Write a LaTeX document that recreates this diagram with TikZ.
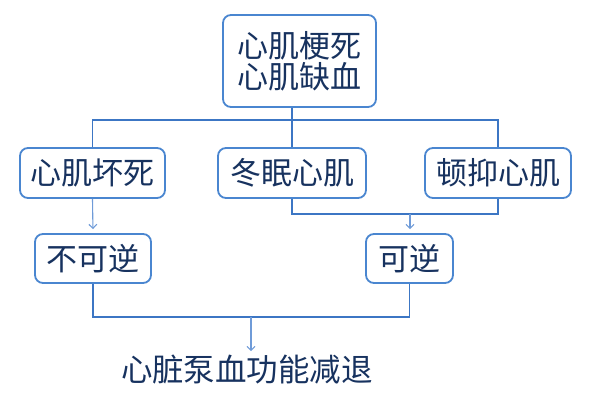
\documentclass[tikz,border=0pt]{standalone}
\usepackage{fontspec}
\setmainfont{Noto Sans CJK SC}
\usetikzlibrary{arrows.meta}
\definecolor{boxline}{HTML}{4A86D0}
\definecolor{conn}{HTML}{3C76C4}
\definecolor{arr}{HTML}{6F9BD8}
\definecolor{txt}{HTML}{17325F}
\tikzset{
  box/.style={draw=boxline, line width=1.8pt, rounded corners=8pt, fill=white,
    text=txt, align=center, inner sep=0pt,
    font=\fontsize{31}{33}\selectfont},
  conline/.style={draw=conn, line width=1.1pt},
  arrline/.style={draw=arr, line width=1.1pt, -{Straight Barb[length=4pt,width=8pt]}, shorten >=4pt},
}
\begin{document}
\begin{tikzpicture}[x=1pt,y=-1pt]
\useasboundingbox (0,0) rectangle (590,407);
\node[box, minimum width=153pt, minimum height=92pt] (top) at (299.5,61) {心肌梗死\\[-2pt]心肌缺血};
\node[box, minimum width=145pt, minimum height=50pt] (a) at (92.5,173) {心肌坏死};
\node[box, minimum width=148pt, minimum height=50pt] (b) at (292,173) {冬眠心肌};
\node[box, minimum width=146pt, minimum height=50pt] (c) at (498,173) {顿抑心肌};
\node[box, minimum width=116pt, minimum height=49pt] (d) at (93,258.5) {不可逆};
\node[box, minimum width=87pt, minimum height=49pt] (e) at (409.5,258.5) {可逆};
\node[text=txt, inner sep=0pt, font=\fontsize{31.5}{33}\selectfont] (f) at (247,370) {心脏泵血功能减退};
\coordinate (j1) at (292,120);
\coordinate (j2) at (410,214);
\coordinate (j3) at (251,317);
\draw[conline] (top.south -| j1) -- (j1);
\draw[conline] (a.north) |- (j1) -| (c.north);
\draw[conline] (b.north) -- (j1);
\draw[conline] (b.south) |- (j2) -| (c.south);
\draw[conline] (d.south) |- (j3) -| (e.south);
\draw[arrline] (a.south) -- (d.north);
\draw[arrline] (j2) -- (e.north -| j2);
\draw[arrline] (j3) -- (f.north -| j3);
\end{tikzpicture}
\end{document}
